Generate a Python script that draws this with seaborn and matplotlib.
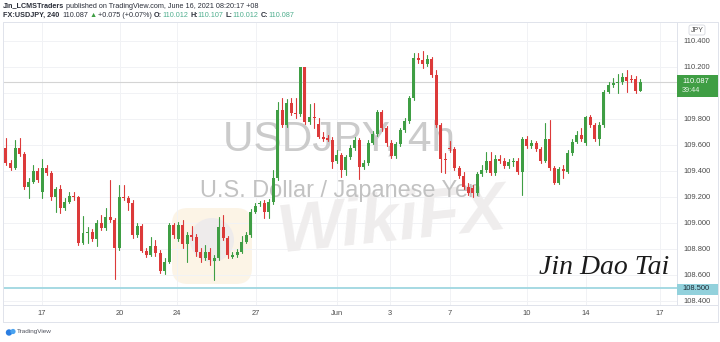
import matplotlib
matplotlib.use("Agg")
import numpy as np
import pandas as pd
import matplotlib.pyplot as plt
import seaborn as sns
from matplotlib import font_manager
from matplotlib.patches import Rectangle, FancyBboxPatch, Circle
from matplotlib.lines import Line2D
from matplotlib.transforms import Affine2D

# ---- USDJPY 4h candles (open / high / low / close) ----
opens = [
    109.580, 109.459, 109.420, 109.574, 109.530, 109.274, 109.317, 109.402, 109.240, 109.425,
    109.387, 109.202, 109.259, 109.113, 109.163, 109.207, 109.200, 108.848, 108.925, 108.933,
    108.874, 108.997, 108.959, 109.043, 109.023, 108.805, 109.197, 109.190, 109.156, 108.907,
    108.977, 108.787, 108.753, 108.823, 108.767, 108.630, 108.702, 108.984, 108.874, 108.984,
    108.836, 108.907, 108.894, 108.779, 108.728, 108.779, 108.710, 108.728, 108.971, 108.882,
    108.740, 108.753, 108.779, 108.856, 108.907, 109.087, 109.143, 109.151, 109.087, 109.161,
    109.348, 109.869, 109.753, 109.923, 109.846, 109.838, 110.196, 109.777, 109.815, 109.761,
    109.663, 109.651, 109.642, 109.479, 109.523, 109.407, 109.505, 109.574, 109.638, 109.428,
    109.463, 109.617, 109.684, 109.856, 109.728, 109.617, 109.515, 109.607, 109.715, 109.787,
    109.959, 110.267, 110.253, 110.223, 110.259, 110.138, 109.753, 109.490, 109.579, 109.567,
    109.420, 109.361, 109.279, 109.269, 109.233, 109.374, 109.407, 109.479, 109.387, 109.490,
    109.477, 109.438, 109.471, 109.477, 109.394, 109.643, 109.592, 109.613, 109.567, 109.479,
    109.643, 109.420, 109.310, 109.413, 109.394, 109.540, 109.625, 109.677, 109.613, 109.813,
    109.753, 109.646, 109.753, 110.010, 110.061, 110.079, 110.082, 110.120, 110.107, 110.105,
    110.012,
]
highs = [
    109.653, 109.484, 109.638, 109.653, 109.546, 109.346, 109.446, 109.423, 109.492, 109.446,
    109.400, 109.277, 109.292, 109.192, 109.240, 109.238, 109.207, 109.053, 108.969, 108.953,
    109.023, 109.061, 109.115, 109.330, 109.038, 109.292, 109.292, 109.207, 109.177, 108.997,
    108.992, 108.807, 108.892, 108.869, 108.792, 108.730, 108.997, 108.997, 109.007, 109.023,
    108.930, 108.977, 108.915, 108.807, 108.830, 108.807, 108.753, 109.048, 109.061, 108.900,
    108.777, 108.800, 108.900, 108.930, 109.107, 109.153, 109.169, 109.177, 109.184, 109.408,
    109.930, 109.959, 109.953, 109.961, 109.961, 110.200, 110.200, 109.915, 109.923, 109.807,
    109.700, 109.677, 109.661, 109.561, 109.538, 109.523, 109.600, 109.661, 109.653, 109.484,
    109.638, 109.707, 109.869, 109.869, 109.746, 109.638, 109.623, 109.730, 109.807, 109.977,
    110.310, 110.310, 110.325, 110.292, 110.277, 110.177, 109.769, 109.538, 109.630, 109.584,
    109.438, 109.392, 109.308, 109.292, 109.392, 109.446, 109.546, 109.546, 109.523, 109.523,
    109.500, 109.492, 109.500, 109.500, 109.661, 109.669, 109.638, 109.630, 109.584, 109.767,
    109.792, 109.438, 109.430, 109.446, 109.561, 109.646, 109.707, 109.730, 109.823, 109.830,
    109.769, 109.777, 110.023, 110.085, 110.115, 110.146, 110.153, 110.177, 110.138, 110.131,
    110.107,
]
lows = [
    109.446, 109.407, 109.415, 109.515, 109.261, 109.192, 109.307, 109.315, 109.192, 109.369,
    109.177, 109.084, 109.077, 109.100, 109.153, 109.177, 108.830, 108.838, 108.846, 108.861,
    108.823, 108.946, 108.946, 109.007, 108.569, 108.792, 109.177, 109.100, 108.884, 108.892,
    108.777, 108.738, 108.746, 108.746, 108.615, 108.607, 108.692, 108.884, 108.861, 108.807,
    108.700, 108.869, 108.746, 108.700, 108.715, 108.677, 108.561, 108.715, 108.869, 108.730,
    108.730, 108.738, 108.769, 108.846, 108.892, 109.077, 109.130, 109.038, 109.038, 109.146,
    109.330, 109.738, 109.738, 109.830, 109.807, 109.823, 109.761, 109.761, 109.730, 109.653,
    109.630, 109.630, 109.420, 109.461, 109.356, 109.369, 109.492, 109.561, 109.336, 109.415,
    109.446, 109.607, 109.669, 109.707, 109.592, 109.500, 109.500, 109.592, 109.700, 109.769,
    109.946, 110.230, 110.192, 110.207, 110.123, 109.738, 109.394, 109.384, 109.546, 109.407,
    109.346, 109.261, 109.215, 109.200, 109.215, 109.361, 109.392, 109.369, 109.369, 109.461,
    109.423, 109.423, 109.438, 109.377, 109.215, 109.577, 109.577, 109.554, 109.461, 109.469,
    109.407, 109.300, 109.300, 109.346, 109.384, 109.523, 109.615, 109.630, 109.600, 109.738,
    109.630, 109.600, 109.738, 110.000, 110.046, 110.000, 110.069, 110.008, 110.085, 110.000,
    110.012,
]
closes = [
    109.459, 109.420, 109.574, 109.530, 109.274, 109.317, 109.402, 109.330, 109.425, 109.387,
    109.202, 109.259, 109.113, 109.163, 109.207, 109.200, 108.848, 108.925, 108.933, 108.874,
    108.997, 108.959, 109.043, 109.023, 108.805, 109.197, 109.190, 109.156, 108.907, 108.977,
    108.787, 108.753, 108.823, 108.767, 108.630, 108.702, 108.984, 108.907, 108.984, 108.836,
    108.907, 108.894, 108.779, 108.728, 108.779, 108.715, 108.728, 108.971, 108.882, 108.753,
    108.753, 108.779, 108.856, 108.907, 109.087, 109.128, 109.151, 109.087, 109.161, 109.348,
    109.869, 109.753, 109.923, 109.846, 109.838, 110.196, 109.777, 109.815, 109.807, 109.663,
    109.646, 109.642, 109.471, 109.523, 109.407, 109.505, 109.574, 109.638, 109.428, 109.463,
    109.617, 109.684, 109.856, 109.728, 109.617, 109.515, 109.607, 109.715, 109.787, 109.959,
    110.267, 110.253, 110.223, 110.259, 110.138, 109.753, 109.490, 109.484, 109.567, 109.420,
    109.361, 109.279, 109.233, 109.233, 109.374, 109.407, 109.479, 109.387, 109.490, 109.477,
    109.438, 109.471, 109.477, 109.394, 109.643, 109.592, 109.613, 109.567, 109.479, 109.643,
    109.420, 109.310, 109.413, 109.400, 109.540, 109.625, 109.677, 109.643, 109.813, 109.753,
    109.646, 109.753, 110.010, 110.061, 110.079, 110.085, 110.120, 110.095, 110.100, 110.012,
    110.087,
]

date_labels = ["17", "20", "24", "27", "Jun", "3", "7", "10", "14", "17"]
date_pos = [7.9, 25.2, 37.7, 55.2, 73.1, 84.8, 98.0, 115.0, 128.0, 144.4]
price_ticks = [108.4, 108.6, 108.8, 109.0, 109.2, 109.4, 109.6, 109.8, 110.0, 110.2, 110.4]
last_price = 110.087
level_price = 108.500
countdown = "39:44"

UP, DOWN = "#3f9e44", "#dc3a3a"
TEAL = "#4fae8e"
FRAME = "#e0e3eb"
TXT = "#4a4a4a"

sns.set_theme(style="white")
available = {f.name for f in font_manager.fontManager.ttflist}
BASE = "Liberation Sans" if "Liberation Sans" in available else "DejaVu Sans"
NARROW = "Liberation Sans Narrow" if "Liberation Sans Narrow" in available else BASE
SERIF = "Liberation Serif" if "Liberation Serif" in available else "DejaVu Serif"
plt.rcParams["font.family"] = [BASE, "DejaVu Sans"]

W, H = 720, 342
fig = plt.figure(figsize=(W / 100, H / 100), dpi=100)
fig.patch.set_facecolor("white")
# pixel coordinates, origin at the top-left corner
PX = Affine2D().scale(1 / W, -1 / H).translate(0, 1) + fig.transFigure

ax = fig.add_axes([3 / W, 1 - 305 / H, 674 / W, 283 / H])
ax.set_facecolor("white")

o, hi, lo, c = map(np.asarray, (opens, highs, lows, closes))
idx = np.arange(len(o))
rising = c >= o

# wicks
wicks = pd.DataFrame({
    "bar": np.repeat(idx, 2),
    "price": np.column_stack([lo, hi]).ravel(),
    "side": np.repeat(np.where(rising, "up", "down"), 2),
})
sns.lineplot(data=wicks, x="bar", y="price", units="bar", hue="side",
             palette={"up": UP, "down": DOWN}, estimator=None, sort=False,
             linewidth=0.8, legend=False, ax=ax, zorder=3)

# bodies
ax.bar(idx, np.maximum(np.abs(c - o), 0.008), bottom=np.minimum(o, c),
       width=0.66, color=np.where(rising, UP, DOWN), linewidth=0, zorder=4)

# last price and horizontal level
ax.axhline(last_price, color="#d4d4d4", lw=0.8, zorder=2)
ax.axhline(level_price, color="#a6d9e3", lw=1.4, zorder=2)

# symbol watermark
r = fig.canvas.get_renderer()


def fit(t, target):
    w = t.get_window_extent(r).width
    t.set_fontsize(t.get_fontsize() * target / w)


t = ax.text(339, 139, "USDJPY, 4h", transform=PX, ha="center", va="center",
            fontsize=30, color="#cbcbcb", family=[NARROW, "DejaVu Sans"], zorder=1)
fit(t, 232)
t = ax.text(340, 191, "U.S. Dollar / Japanese Yen", transform=PX, ha="center",
            va="center", fontsize=14, color="#c2c2c2", zorder=1)
fit(t, 283)

# broker watermark
ax.add_patch(FancyBboxPatch((172, 208), 80, 76, boxstyle="round,pad=0,rounding_size=16",
                            transform=PX, facecolor="#fcf4e6", edgecolor="none", zorder=0.5))
ax.add_patch(Circle((212, 240), 22, transform=PX, facecolor="#eeebeb", edgecolor="none",
                    zorder=0.6))
t = ax.text(392, 222, "WikiFX", transform=PX, ha="center", va="center", fontsize=40,
            color="#efeded", fontweight="bold", style="italic", rotation=6, zorder=0.7)
fit(t, 235)

# axes styling
ax.set_xlim(-0.66, 148.12)
ax.set_ylim(108.369, 110.546)
ax.set_xlabel("")
ax.set_ylabel("")
for s in ax.spines.values():
    s.set_visible(False)
ax.yaxis.tick_right()
ax.set_yticks(price_ticks)
ax.set_yticklabels(["" if abs(p - 110.0) < 1e-9 else f"{p:.3f}" for p in price_ticks])
ax.tick_params(axis="y", length=0, pad=4.3, labelsize=5.4, labelcolor=TXT)
ax.set_xticks(date_pos)
ax.set_xticklabels(date_labels)
ax.tick_params(axis="x", length=0, pad=3.4, labelsize=5.4, labelcolor=TXT)
ax.grid(True, color="#f1f2f5", linewidth=0.7)
ax.set_axisbelow(True)

# chart frame
for (x0, y0, x1, y1) in [(3, 22, 718, 22), (3, 22, 3, 322), (718, 22, 718, 322),
                         (3, 305, 718, 305), (3, 322, 718, 322), (677, 22, 677, 305)]:
    fig.add_artist(Line2D([x0, x1], [y0, y1], transform=PX, color=FRAME, lw=0.7))

# price scale badges
fig.add_artist(Rectangle((677, 75), 41, 22, transform=PX, facecolor=UP, edgecolor="none", zorder=5))
fig.text(682, 81.5, f"{last_price:.3f}", transform=PX, fontsize=5.4, color="white",
         ha="left", va="center", zorder=6)
fig.text(682, 91, countdown, transform=PX, fontsize=5.2, color="#e3f3e3",
         ha="left", va="center", zorder=6)
fig.add_artist(Rectangle((677, 283.5), 41, 11, transform=PX, facecolor="#92d1dc",
                         edgecolor="none", zorder=5))
fig.text(682, 289, f"{level_price:.3f}", transform=PX, fontsize=5.4, color="#1d2b36",
         ha="left", va="center", zorder=6)
fig.add_artist(FancyBboxPatch((689, 25), 16, 10, boxstyle="round,pad=0,rounding_size=2",
                              transform=PX, facecolor="white", edgecolor="#d6d8de", lw=0.6, zorder=5))
fig.text(697, 30.2, "JPY", transform=PX, fontsize=5, color=TXT, ha="center", va="center", zorder=6)


# header lines
def run(x0, y0, pieces, size):
    x = x0
    for s, col, wt, gap in pieces:
        tt = fig.text(x, y0, s, transform=PX, fontsize=size, color=col, fontweight=wt,
                      ha="left", va="center")
        x += tt.get_window_extent(r).width + gap


probe = fig.text(0, 0, "Jin_LCMSTraders published on TradingView.com, June 16, 2021 08:20:17 +08",
                 transform=PX, fontsize=5)
hsize = 5 * 259 / probe.get_window_extent(r).width
probe.remove()
DARK = "#2a2e39"
run(3, 6, [("Jin_LCMSTraders", DARK, "bold", 2),
           ("published on TradingView.com, June 16, 2021 08:20:17 +08", DARK, "normal", 0)], hsize)
run(3, 15.5, [("FX:USDJPY, 240", DARK, "bold", 3),
              ("110.087", DARK, "normal", 1.5), ("\u25b2", UP, "normal", 1.5),
              ("+0.075 (+0.07%)", DARK, "normal", 2),
              ("O:", DARK, "bold", 0), ("110.012", TEAL, "normal", 2),
              ("H:", DARK, "bold", 0), ("110.107", TEAL, "normal", 2),
              ("L:", DARK, "bold", 0), ("110.012", TEAL, "normal", 2),
              ("C:", DARK, "bold", 0), ("110.087", TEAL, "normal", 0)], hsize)

# signature
fig.text(604, 267, "Jin Dao Tai", transform=PX, fontsize=20, color="#1b1b1b",
         family=[SERIF], style="italic", ha="center", va="center", zorder=6)

# footer logo
fig.add_artist(Circle((9, 332.5), 3.2, transform=PX, facecolor="#2a7de1", edgecolor="none"))
fig.add_artist(Circle((13, 331.5), 2.6, transform=PX, facecolor="#4aa3f0", edgecolor="none"))
fig.text(17, 332, "TradingView", transform=PX, fontsize=4.6, color="#50535e",
         ha="left", va="center")

fig.savefig("out.png", dpi=100, facecolor="white")
